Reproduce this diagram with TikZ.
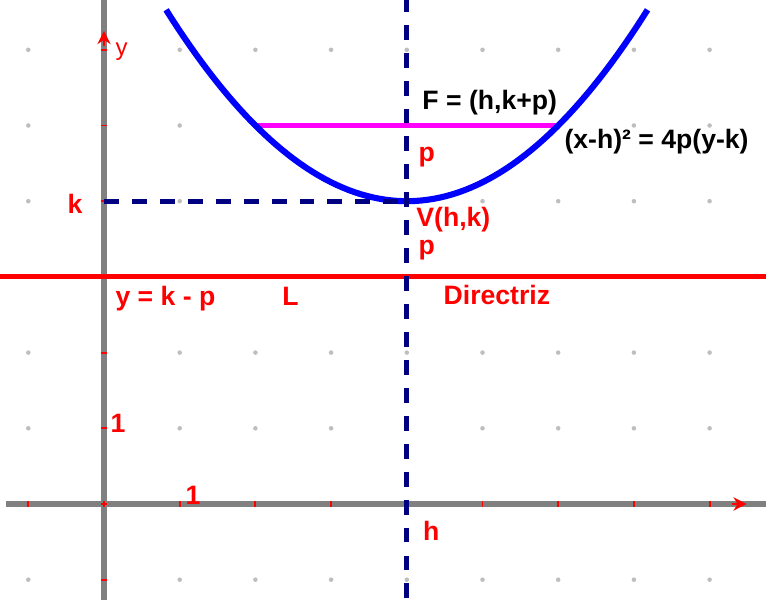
\documentclass[tikz,border=0pt]{standalone}
\usepackage{fontspec}
\setmainfont{Liberation Sans}
\usetikzlibrary{arrows.meta}

\definecolor{navyline}{RGB}{0,0,128}
\definecolor{axisgray}{RGB}{128,128,128}
\definecolor{dotgray}{RGB}{190,190,190}
\definecolor{latus}{RGB}{255,0,255}

\begin{document}
\begin{tikzpicture}[
  axisline/.style={draw=axisgray, line width=1.9pt},
  guide/.style={draw=navyline, line width=1.9pt, dash pattern=on 5.6pt off 4.9pt},
  curve/.style={draw=blue, line width=2.3pt},
  redlabel/.style={text=red, font=\bfseries, inner sep=0pt, anchor=base west},
  blacklabel/.style={text=black, font=\bfseries, inner sep=0pt, anchor=base west},
  tick/.style={draw=red, line width=0.7pt}
]
\useasboundingbox[fill=white] (-1.374,-1.268) rectangle (8.745,6.658);
\clip (-1.374,-1.268) rectangle (8.745,6.658);

% grid dots
\foreach \i in {-1,...,8}
  \foreach \j in {-1,...,6}
    \fill[dotgray] (\i,\j) circle (0.03);

% points
\coordinate (O) at (0,0);
\coordinate (V) at (4,4);
\coordinate (F) at (4,5);
\coordinate (K) at (0,4);
\coordinate (LL) at (2,5);
\coordinate (LR) at (6,5);
\coordinate (xleft) at (-1.3,0);
\coordinate (xright) at (8.8,0);
\coordinate (ybot) at (0,-1.3);
\coordinate (ytop) at (0,6.7);
\coordinate (dleft) at (-1.4,3);
\coordinate (dright) at (8.8,3);
\coordinate (htop) at (4,6.7);
\coordinate (hbot) at (4,-1.3);

% axes
\draw[axisline] (xleft) -- (xright);
\draw[axisline] (ybot) -- (ytop);
\foreach \i in {-1,...,8}
  \draw[tick] (\i,-0.04) -- (\i,0.04);
\foreach \j in {-1,...,6}
  \draw[tick] (-0.04,\j) -- (0.04,\j);
\draw[red, line width=0.7pt, -{Stealth[length=5pt,width=5pt]}] (8.3,0) -- (8.49,0);
\draw[red, line width=0.7pt, -{Stealth[length=5pt,width=5pt]}] (0,6.05) -- (0,6.25);

% directriz and latus rectum
\draw[red, line width=1.9pt] (dleft) -- (dright);
\draw[latus, line width=1.7pt] (LL) -- (LR);

% parabola
\draw[curve] plot[domain=0.82:7.18, samples=80] (\x,{4+(\x-4)*(\x-4)/4});

% guides
\draw[guide] (K) -- (V);
\draw[guide] (htop) -- (hbot);

% labels
\node[text=red, font=\small, inner sep=0pt, anchor=base west] (ylbl) at (0.145,5.93) {y};
\node[redlabel] (klbl) at (-0.489,3.844) {k};
\node[blacklabel] (Flbl) at (4.2,5.205) {F = (h,k+p)};
\node[blacklabel] (eqlbl) at (6.077,4.69) {(x-h)² = 4p(y-k)};
\node[redlabel] (p1) at (4.148,4.518) {p};
\node[redlabel] (Vlbl) at (4.12,3.66) {V(h,k)};
\node[redlabel] (p2) at (4.148,3.29) {p};
\node[redlabel] (dirlbl) at (4.48,2.63) {Directriz};
\node[redlabel] (dlbl) at (0.145,2.62) {y = k - p};
\node[redlabel] (Llbl) at (2.35,2.62) {L};
\node[redlabel] (hlbl) at (4.21,-0.476) {h};
\node[redlabel] (one1) at (0.08,0.95) {1};
\node[redlabel] (one2) at (1.07,-0.01) {1};
\end{tikzpicture}
\end{document}
